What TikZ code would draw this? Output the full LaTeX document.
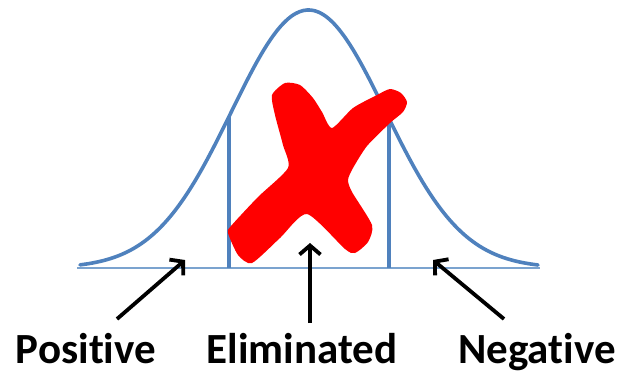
\documentclass[tikz,border=0pt]{standalone}
\usepackage{fontspec}
\setmainfont{Carlito}[Ligatures={NoCommon,NoRequired,NoContextual},Contextuals=NoAlternate]
\usetikzlibrary{arrows.meta}
\definecolor{curveblue}{HTML}{4F81BD}
\definecolor{baseblue}{HTML}{7BA3CF}
\definecolor{xred}{HTML}{FF0000}
\tikzset{
  curveline/.style={draw=curveblue, line width=3.6pt},
  baseline/.style={draw=baseblue, line width=1.6pt},
  pointer/.style={draw=black, line width=3.8pt, -{Straight Barb[length=9pt,width=21pt]}},
  lbl/.style={font=\fontsize{43}{43}\selectfont\bfseries, anchor=base, inner sep=0pt}
}
\begin{document}
\begin{tikzpicture}[x=1pt,y=-1pt]
\useasboundingbox (0,0) rectangle (624,373);
% baseline
\coordinate (bl) at (77,268);
\coordinate (br) at (540,268);
\draw[baseline] (bl) -- (br);
% bell curve
\draw[curveline, line cap=round] plot[domain=80:538, samples=120, smooth] (\x,{268-258*exp(-0.5*((\x-308.5)/77)^2)});
% vertical cut lines
\coordinate (lt) at (229,{268-258*exp(-0.5*((229-308.5)/77)^2)});
\coordinate (lb) at (229,268);
\coordinate (rt) at (389,{268-258*exp(-0.5*((389-308.5)/77)^2)});
\coordinate (rb) at (389,268);
\draw[curveline] (lt) -- (lb);
\draw[curveline] (rt) -- (rb);
% red X
\fill[xred] plot[smooth cycle, tension=0.4] coordinates {
 (285,83) (300,85) (313,98) (322,112) (332,128) (353,108) (377,95) (390,89)
 (401,93) (407,102) (403,112) (390,123) (367,146) (353,168) (348,180) (352,192)
 (372,225) (368,242) (355,253) (345,249) (307,214) (280,238) (252,263) (238,255)
 (228,233) (231,226) (258,197) (288,168) (283,145) (275,115) (272,95)};
% labels
\node[lbl] (pos) at (86,363) {Positive};
\node[lbl] (elim) at (302,363) {Eliminated};
\node[lbl] (neg) at (537,363) {Negative};
% arrows
\coordinate (pt) at (117,319);
\coordinate (ph) at (185,260);
\coordinate (et) at (310,323);
\coordinate (eh) at (310,243);
\coordinate (nt) at (504,319);
\coordinate (nh) at (433,260);
\draw[pointer] (pt) -- (ph);
\draw[pointer] (et) -- (eh);
\draw[pointer] (nt) -- (nh);
\end{tikzpicture}
\end{document}
